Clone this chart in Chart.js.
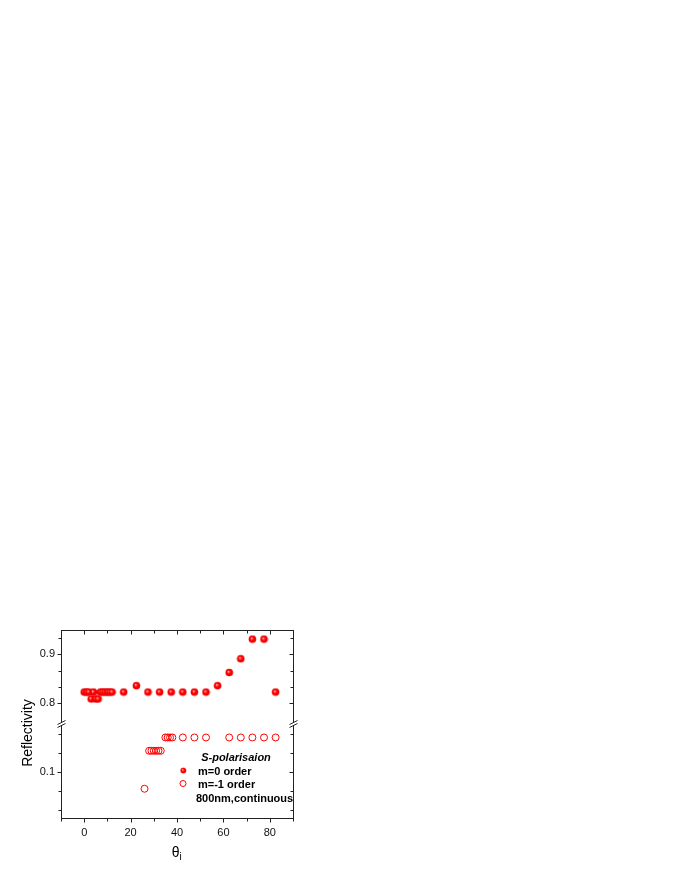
<!DOCTYPE html>
<html>
<head>
<meta charset="utf-8">
<script src="https://cdn.jsdelivr.net/npm/chart.js@4.4.1/dist/chart.umd.min.js"></script>
<style>
  html, body { margin: 0; padding: 0; background: #fff; }
  canvas { display: block; }
</style>
</head>
<body>
<canvas id="myChart" width="680" height="880"></canvas>
<script>
// m=0 order (filled spheres), upper part of the broken axis
const anglesM0 = [0, 1, 2, 3, 4, 5, 6, 7, 8, 9, 10, 11, 12, 17, 22.5, 27.5, 32.5, 37.5, 42.5, 47.5, 52.5, 57.5, 62.5, 67.5, 72.5, 77.5, 82.5];
const reflM0 = [0.823, 0.823, 0.823, 0.809, 0.823, 0.809, 0.809, 0.823, 0.823, 0.823, 0.823, 0.823, 0.823, 0.823,
                0.836, 0.823, 0.823, 0.823, 0.823, 0.823, 0.823, 0.836, 0.863, 0.891, 0.931, 0.931, 0.823];

// m=-1 order (open circles), lower part of the broken axis
const anglesM1 = [26, 28, 29, 30, 31, 32, 33, 35, 36, 37, 38, 42.5, 47.5, 52.5, 62.5, 67.5, 72.5, 77.5, 82.5];
const reflM1 = [0.091, 0.111, 0.111, 0.111, 0.111, 0.111, 0.111, 0.118, 0.118, 0.118, 0.118,
                0.118, 0.118, 0.118, 0.118, 0.118, 0.118, 0.118, 0.118];

const xTicks = [-10, 0, 10, 20, 30, 40, 50, 60, 70, 80, 90];
const xLabelled = [0, 20, 40, 60, 80];
const upperTicks = [0.8, 0.8333, 0.8667, 0.9, 0.9333];
const upperLabelled = [0.8, 0.9];
const lowerTicks = [0.08, 0.09, 0.1, 0.11, 0.12];
const lowerLabelled = [0.1];

const FONT = 'Liberation Sans, Arial, sans-serif';
const RED = '#ff0000';

function makeSphere(r) {
    const c = document.createElement('canvas');
    const s = Math.ceil(r * 2) + 1;
    c.width = s; c.height = s;
    const g = c.getContext('2d');
    const cx = s / 2, cy = s / 2;
    const grad = g.createRadialGradient(cx - 0.8, cy - 0.8, 0.1, cx, cy, r);
    grad.addColorStop(0, '#ffffff');
    grad.addColorStop(0.22, '#ff4a4a');
    grad.addColorStop(0.5, '#ff0000');
    grad.addColorStop(1, '#e60000');
    g.fillStyle = grad;
    g.beginPath();
    g.arc(cx, cy, r, 0, Math.PI * 2);
    g.fill();
    return c;
}
const sphere = makeSphere(3.8);

const framePlugin = {
    id: 'frame',
    afterDraw(chart) {
        const ctx = chart.ctx;
        const a = chart.chartArea;
        const L = Math.round(a.left) + 0.5, R = Math.round(a.right) + 0.5;
        const T = Math.round(a.top) + 0.5, B = Math.round(a.bottom) + 0.5;
        ctx.save();
        ctx.strokeStyle = '#222';
        ctx.lineWidth = 1;
        ctx.strokeRect(L, T, R - L, B - T);

        ctx.beginPath();
        const xs = chart.scales.x;
        xs.ticks.forEach(t => {
            const px = Math.round(xs.getPixelForValue(t.value)) + 0.5;
            const len = xLabelled.includes(t.value) ? 4 : 3;
            ctx.moveTo(px, B); ctx.lineTo(px, B + len);
            ctx.moveTo(px, T); ctx.lineTo(px, T + len);
        });
        [['y', upperLabelled], ['y2', lowerLabelled]].forEach(([id, lab]) => {
            const s = chart.scales[id];
            s.ticks.forEach(t => {
                const py = Math.round(s.getPixelForValue(t.value)) + 0.5;
                const len = lab.includes(t.value) ? 4 : 3;
                ctx.moveTo(L, py); ctx.lineTo(L - len, py);
                ctx.moveTo(R, py); ctx.lineTo(R - len, py);
            });
        });
        ctx.stroke();

        // axis break marks
        const yb = Math.min(chart.scales.y.bottom, chart.scales.y2.bottom);
        [L, R].forEach(x => {
            ctx.fillStyle = '#fff';
            ctx.fillRect(x - 1.5, yb - 2, 3, 4);
            ctx.beginPath();
            ctx.moveTo(x - 4, yb + 0.5); ctx.lineTo(x + 4, yb - 3.5);
            ctx.moveTo(x - 4, yb + 3.5); ctx.lineTo(x + 4, yb - 0.5);
            ctx.stroke();
        });

        // axis titles
        ctx.fillStyle = '#000';
        ctx.font = '14px ' + FONT;
        ctx.textAlign = 'center';
        ctx.textBaseline = 'middle';
        ctx.save();
        ctx.translate(28, 733);
        ctx.rotate(-Math.PI / 2);
        ctx.fillText('Reflectivity', 0, 0);
        ctx.restore();

        ctx.textBaseline = 'alphabetic';
        ctx.textAlign = 'right';
        ctx.font = '14px ' + FONT;
        ctx.fillText('θ', 179.5, 857);
        ctx.textAlign = 'left';
        ctx.font = '10px ' + FONT;
        ctx.fillText('i', 179.5, 860);

        // legend
        ctx.textAlign = 'center';
        ctx.font = 'italic bold 11px ' + FONT;
        ctx.fillText('S-polarisaion', 236, 761);
        ctx.textAlign = 'left';
        ctx.font = 'bold 11px ' + FONT;
        ctx.fillText('m=0 order', 198, 775);
        ctx.fillText('m=-1 order', 198, 788);
        ctx.fillText('800nm,continuous', 196, 802);
        ctx.drawImage(sphere, 183.3 - 3.5, 770.5 - 3.5, 7, 7);
        ctx.strokeStyle = RED;
        ctx.beginPath();
        ctx.arc(183, 783.5, 3, 0, Math.PI * 2);
        ctx.stroke();
        ctx.restore();
    }
};

const tickFont = { family: FONT, size: 11 };

const ctx = document.getElementById('myChart').getContext('2d');
const myChart = new Chart(ctx, {
    type: 'scatter',
    data: {
        datasets: [{
            label: 'm=0 order',
            data: anglesM0.map((a, i) => ({ x: a, y: reflM0[i] })),
            yAxisID: 'y',
            pointStyle: sphere,
            pointRadius: 3.8
        }, {
            label: 'm=-1 order',
            data: anglesM1.map((a, i) => ({ x: a, y: reflM1[i] })),
            yAxisID: 'y2',
            pointStyle: 'circle',
            pointRadius: 3.5,
            borderWidth: 1,
            borderColor: RED,
            backgroundColor: 'rgba(255,255,255,0)'
        }]
    },
    options: {
        responsive: false,
        animation: false,
        devicePixelRatio: 1,
        layout: { padding: { left: 21, top: 630, right: 387, bottom: 32 } },
        plugins: { legend: { display: false }, tooltip: { enabled: false } },
        scales: {
            x: {
                type: 'linear', min: -10, max: 90,
                grid: { display: false, drawTicks: false },
                border: { display: false },
                afterBuildTicks: s => { s.ticks = xTicks.map(v => ({ value: v })); },
                afterFit: s => { s.height = 30; },
                ticks: {
                    autoSkip: false, maxRotation: 0, padding: 8, color: '#111', font: tickFont,
                    callback: v => xLabelled.includes(v) ? String(v) : ''
                }
            },
            y: {
                type: 'linear', position: 'left', stack: 'refl', stackWeight: 1, weight: 1,
                min: 0.7578, max: 0.9496,
                grid: { display: false, drawTicks: false },
                border: { display: false },
                afterBuildTicks: s => { s.ticks = upperTicks.map(v => ({ value: v })); },
                afterFit: s => { s.width = 40; },
                ticks: {
                    autoSkip: false, padding: 6, color: '#111', font: tickFont,
                    callback: v => upperLabelled.includes(v) ? v.toFixed(1) : ''
                }
            },
            y2: {
                type: 'linear', position: 'left', stack: 'refl', stackWeight: 1, weight: 0,
                min: 0.0756, max: 0.1251,
                grid: { display: false, drawTicks: false },
                border: { display: false },
                afterBuildTicks: s => { s.ticks = lowerTicks.map(v => ({ value: v })); },
                afterFit: s => { s.width = 40; },
                ticks: {
                    autoSkip: false, padding: 6, color: '#111', font: tickFont,
                    callback: v => lowerLabelled.includes(v) ? v.toFixed(1) : ''
                }
            }
        }
    },
    plugins: [framePlugin]
});
</script>
</body>
</html>
